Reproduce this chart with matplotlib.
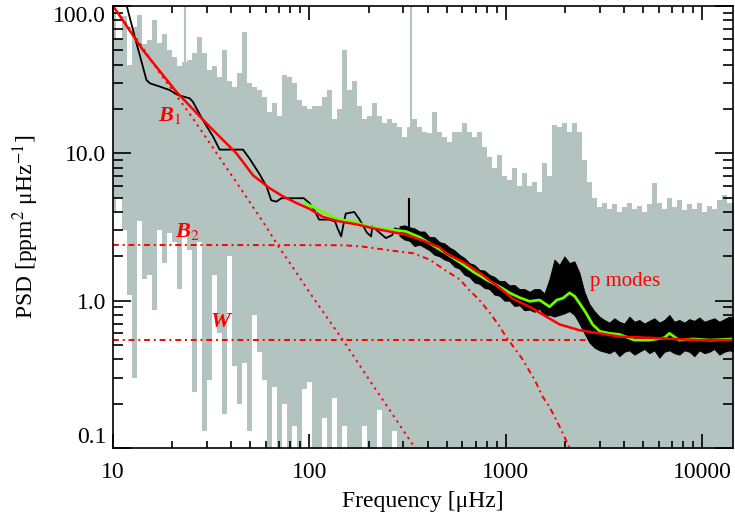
import matplotlib.pyplot as plt
from matplotlib.ticker import NullFormatter

plt.rcParams['font.family'] = ['Liberation Serif', 'DejaVu Serif']
plt.rcParams['mathtext.fontset'] = 'stix'

# raw spectrum, drawn as columns: frequency, upper and lower PSD in each column
grey_freq = [10.0, 10.81, 11.47, 12.16, 12.89, 13.67, 14.49, 15.37, 16.29, 17.28,
             18.32, 19.42, 20.59, 21.84, 23.15, 24.55, 26.03, 27.60, 29.26, 31.03,
             32.90, 34.88, 36.99, 39.22, 41.58, 44.09, 46.75, 49.57, 52.56, 55.72,
             59.08, 62.65, 66.42, 70.43, 74.68, 79.18, 83.95, 89.02, 94.38, 100.1,
             106.1, 112.5, 119.3, 126.5, 134.1, 142.2, 150.8, 159.9, 169.5, 179.7,
             190.6, 202.1, 214.2, 227.2, 240.9, 255.4, 270.8, 287.1, 304.4, 322.8,
             342.3, 362.9, 384.8, 408.0, 432.6, 458.7, 486.4, 515.7, 546.8, 579.8,
             614.8, 651.9, 691.2, 732.9, 777.1, 824.0, 873.7, 926.4, 982.2, 1041,
             1104, 1171, 1242, 1317, 1396, 1480, 1570, 1664, 1765, 1871,
             1984, 2104, 2231, 2365, 2508, 2659, 2820, 2990, 3170, 3361,
             3564, 3779, 4007, 4249, 4505, 4777, 5065, 5370, 5694, 6038,
             6402, 6788, 7197, 7632, 8092, 8580, 9098, 9647, 10229, 10846,
             11500, 12194, 12930, 13710, 14540]
grey_hi = [90, 60, 85, 40, 72, 87, 55, 59, 80, 56,
           65, 50, 45, 39, 42, 43, 48, 62, 48, 37,
           39, 33, 50, 31, 28, 35, 67, 30, 28, 27,
           24, 19, 22, 18, 34, 33, 30, 23, 21, 20,
           21, 21, 24, 27, 17, 20, 50, 27, 31, 21,
           17, 18, 22, 18, 16, 17, 16, 15, 13, 15,
           17, 15, 14, 13.7, 19, 14, 13, 12, 14, 14,
           16, 14, 13, 14, 11, 9.5, 8, 9.7, 7, 6.6,
           8, 6, 7.4, 6, 6.4, 5.5, 8.6, 7, 15.6, 15,
           16, 14, 16, 14, 9, 6.4, 5.0, 4.3, 4.6, 4.2,
           4.5, 4.0, 4.3, 4.6, 4.2, 4.4, 4.0, 4.5, 6.3, 4.6,
           4.2, 5.0, 4.3, 4.8, 4.1, 4.5, 4.2, 4.6, 4.0, 4.4,
           4.2, 4.8, 5.2, 4.6, 4.6]
grey_lo = [4, 5, 3, 1.1, 0.3, 3.5, 1.4, 1.5, 0.87, 3,
           1.8, 2.9, 2.5, 1.2, 3, 2.2, 0.24, 2.5, 0.13, 0.29,
           1.5, 0.6, 0.17, 2.0, 0.36, 0.2, 0.38, 0.13, 0.8, 0.45,
           0.29, 0.05, 0.26, 0.05, 0.2, 0.05, 0.14, 0.05, 0.25, 0.28,
           0.05, 0.05, 0.16, 0.05, 0.22, 0.05, 0.14, 0.05, 0.05, 0.05,
           0.14, 0.05, 0.05, 0.18, 0.05, 0.05, 0.13] + [0.05] * 68

# a few single-bin peaks
spike_f = [23.3, 327.0]
spike_lo = [3.0, 15.0]
spike_hi = [98.0, 100.0]

# smoothed spectrum, low-frequency part
black_f = [10.9, 11.8, 12.9, 13.9, 14.8, 15.4, 17.3, 19.4, 21.4, 24.6,
           25.5, 28.7, 32.3, 34.9, 45.9, 49.6, 55.8, 60.5, 63.9, 67.8,
           72.0, 93.5, 100, 106, 112, 126, 135, 139, 145, 150,
           153, 169, 180, 196, 206, 209, 227, 245, 264, 272, 298]
black_p = [135, 98, 62, 43, 31.5, 29.9, 28.4, 26.9, 24.9, 23.6,
           22.4, 16.8, 13.0, 10.6, 10.6, 9.2, 7.2, 5.95, 4.8, 4.7,
           4.96, 4.96, 4.6, 4.1, 3.55, 3.55, 3.45, 3.1, 2.73, 3.45,
           3.9, 4.0, 3.55, 2.9, 2.73, 3.2, 2.9, 2.66, 2.79, 3.1, 3.0]
black_spike_f = [322.8]
black_spike_lo = [3.0]
black_spike_hi = [5.0]

# smoothed spectrum above ~290 uHz, spread of the scatter in each column
band_lo = [2.75, 2.6, 2.55, 2.35, 2.4, 2.3, 2.2, 2.05, 2.0, 1.9,
           1.85, 1.7, 1.65, 1.5, 1.45, 1.33, 1.3, 1.22, 1.2, 1.1,
           1.08, 1.0, 1.0, 0.92, 0.93, 0.86, 0.87, 0.84, 0.88, 0.8,
           0.8, 0.78, 0.8, 0.82, 0.85, 0.8, 0.7, 0.6, 0.52, 0.48,
           0.46, 0.45, 0.44, 0.46, 0.42, 0.45, 0.46, 0.43, 0.45, 0.47,
           0.44, 0.46, 0.41, 0.45, 0.46, 0.44, 0.43, 0.46, 0.45, 0.42,
           0.46, 0.44, 0.45, 0.47, 0.43, 0.45, 0.46, 0.45]
band_hi = [3.2, 3.25, 3.15, 3.1, 2.95, 2.95, 2.7, 2.7, 2.5, 2.45,
           2.3, 2.2, 2.05, 1.95, 1.8, 1.75, 1.62, 1.6, 1.5, 1.45,
           1.36, 1.36, 1.27, 1.28, 1.2, 1.2, 1.15, 1.2, 1.2, 1.12,
           1.4, 1.9, 1.75, 2.0, 1.8, 1.85, 1.55, 1.15, 0.95, 0.85,
           0.78, 0.74, 0.71, 0.76, 0.72, 0.7, 0.78, 0.72, 0.74, 0.7,
           0.73, 0.76, 0.71, 0.74, 0.8, 0.72, 0.74, 0.71, 0.75, 0.73,
           0.77, 0.72, 0.74, 0.76, 0.72, 0.75, 0.78, 0.76]
band_f = grey_freq[57:]

# heavier smoothing
green_f = [95, 98, 117, 142, 166, 196, 227, 278, 310, 363,
           409, 494, 580, 682, 794, 963, 1044, 1171, 1320, 1483,
           1668, 1815, 1950, 2108, 2240, 2370, 2550, 2760, 3000, 3370,
           3790, 4500, 5380, 6400, 6800, 7600, 9000, 11000, 14300]
green_p = [4.6, 4.5, 4.0, 3.55, 3.45, 3.2, 3.1, 3.0, 2.95, 2.7,
           2.45, 2.1, 1.83, 1.57, 1.39, 1.21, 1.13, 1.05, 0.99, 1.01,
           0.91, 1.01, 1.04, 1.13, 1.07, 0.96, 0.83, 0.69, 0.62, 0.6,
           0.59, 0.54, 0.54, 0.56, 0.6, 0.54, 0.55, 0.54, 0.55]

# fitted background and its components
fit_f = [10, 14.2, 21.0, 31.0, 42.5, 51.6, 62.7, 73.4, 85.9, 100,
         117, 142, 173, 210, 255, 310, 380, 460, 494, 620,
         760, 928, 1085, 1317, 1480, 1875, 2370, 3000, 3780, 5380,
         9650, 14300]
fit_p = [100.4, 50.3, 26.2, 15.2, 10.0, 7.1, 5.8, 5.1, 4.6, 4.2,
         3.7, 3.45, 3.3, 3.1, 2.95, 2.8, 2.55, 2.3, 2.1, 1.8,
         1.5, 1.22, 1.03, 0.91, 0.83, 0.69, 0.63, 0.6, 0.57, 0.56,
         0.54, 0.54]

b1_f = [10, 12, 14.2, 17.3, 20, 24.6, 30, 35, 42, 48,
        60, 70, 85, 100, 122, 148, 180, 206, 250, 300, 343, 380]
b1_p = [100, 72, 52, 35, 27, 18.5, 12.6, 9.3, 6.5, 5.0,
        3.2, 2.3, 1.58, 1.14, 0.78, 0.54, 0.365, 0.278, 0.19, 0.132, 0.101, 0.082]

b2_f = [10, 150, 186, 288, 337, 409, 494, 580, 651, 733,
        826, 928, 1000, 1200, 1400, 1538, 1667, 1900, 2109, 2300]
b2_p = [2.39, 2.38, 2.33, 2.15, 2.1, 1.9, 1.6, 1.4, 1.18, 1.01,
        0.83, 0.67, 0.57, 0.41, 0.29, 0.223, 0.19, 0.135, 0.1, 0.08]

w_f = [10, 14300]
w_p = [0.54, 0.54]

grey = '#b3c3c0'
red = '#ff0000'

fig = plt.figure(figsize=(7.35, 5.18), dpi=100)
ax = fig.add_axes([0.1537, 0.1351, 0.8435, 0.8533])
ax.set_xscale('log')
ax.set_yscale('log')

ax.fill_between(grey_freq, grey_lo, grey_hi, step='mid', color=grey, lw=0, zorder=1)
ax.vlines(spike_f, spike_lo, spike_hi, color=grey, lw=1.5, zorder=1)

ax.plot(b1_f, b1_p, color=red, lw=1.4, ls=(0, (1.2, 2.2)), zorder=2)
ax.plot(b2_f, b2_p, color=red, lw=1.4, ls=(0, (3, 2, 1, 2)), zorder=2)
ax.plot(w_f, w_p, color=red, lw=1.4, ls=(0, (3, 2, 1, 2)), zorder=2)

ax.plot(black_f, black_p, color='black', lw=1.3, zorder=3)
ax.vlines(black_spike_f, black_spike_lo, black_spike_hi, color='black', lw=1.5, zorder=3)
ax.fill_between(band_f, band_lo, band_hi, color='black', lw=0.6, zorder=3)

ax.plot(green_f, green_p, color='#66ff00', lw=2.0, zorder=4)
ax.plot(fit_f, fit_p, color=red, lw=1.8, zorder=5)

lbl = dict(color=red, fontsize=16, style='italic', weight='bold',
           ha='center', va='center', zorder=6)
ax.text(19.4, 18.2, 'B$_1$', **lbl)
ax.text(24.0, 2.93, 'B$_2$', **lbl)
ax.text(35.3, 0.72, 'W', **lbl)
ax.text(2667, 1.34, 'p modes', color=red, fontsize=15, ha='left', va='center', zorder=6)

ax.set_xlim(10, 14300)
ax.set_ylim(0.1, 100)
ax.set_xticks([10, 100, 1000, 10000])
ax.set_xticklabels(['10', '100', '1000', '10000'])
ax.set_yticks([0.1, 1, 10, 100])
ylabels = ax.set_yticklabels(['0.1', '1.0', '10.0', '100.0'])
ylabels[0].set_verticalalignment('bottom')
ylabels[-1].set_verticalalignment('top')
ax.xaxis.set_minor_formatter(NullFormatter())
ax.yaxis.set_minor_formatter(NullFormatter())

ax.tick_params(which='both', direction='in', top=True, right=True, width=1.2, labelsize=17)
ax.tick_params(axis='x', which='major', length=10, pad=10)
ax.tick_params(axis='x', which='minor', length=5)
ax.tick_params(axis='y', which='major', length=13, pad=5)
ax.tick_params(axis='y', which='minor', length=7)
for s in ax.spines.values():
    s.set_linewidth(1.2)
    s.set_zorder(7)

ax.set_xlabel('Frequency [μHz]', fontsize=17, labelpad=6)
ax.set_ylabel('PSD [ppm$^2$ μHz$^{-1}$]', fontsize=17, labelpad=9)

fig.savefig('out.png', dpi=100)
